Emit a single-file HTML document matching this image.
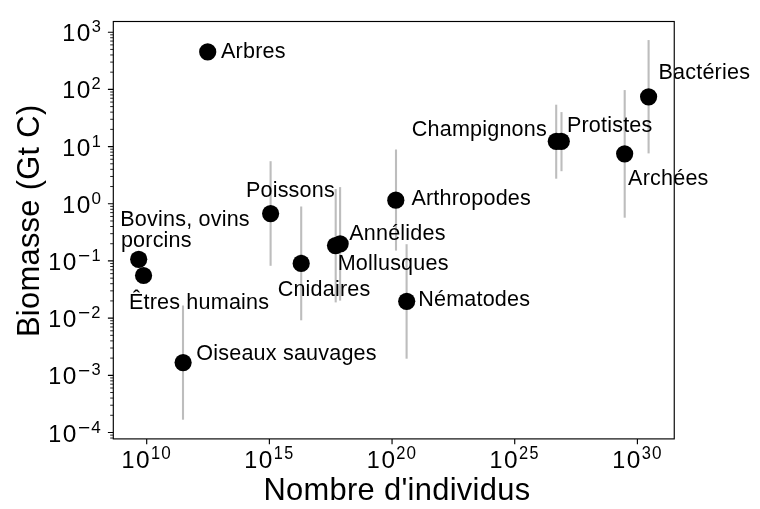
<!DOCTYPE html><html><head><meta charset="utf-8"><style>html,body{margin:0;padding:0;background:#fff;}svg{display:block;will-change:transform;}text{font-family:"Liberation Sans",sans-serif;fill:#000;}.a{letter-spacing:0.2px}.b{letter-spacing:0.31px}</style></head><body>
<svg width="760" height="509" viewBox="0 0 760 509">
<rect width="760" height="509" fill="#fff"/>
<g stroke="#bdbdbd" stroke-width="2.1">
<line x1="183" y1="305.5" x2="183" y2="419.7"/>
<line x1="270.6" y1="161.2" x2="270.6" y2="265.8"/>
<line x1="301.2" y1="206.5" x2="301.2" y2="320.3"/>
<line x1="335.7" y1="189" x2="335.7" y2="302.4"/>
<line x1="340.1" y1="187.1" x2="340.1" y2="300.6"/>
<line x1="396" y1="149.5" x2="396" y2="250.6"/>
<line x1="406.6" y1="244.2" x2="406.6" y2="358.7"/>
<line x1="556.2" y1="104.7" x2="556.2" y2="178.7"/>
<line x1="561.5" y1="112.1" x2="561.5" y2="171.2"/>
<line x1="624.7" y1="90.07" x2="624.7" y2="217.7"/>
<line x1="648.6" y1="40.07" x2="648.6" y2="153.4"/>
</g>
<g fill="#000">
<circle cx="207.7" cy="51.95" r="8.6"/>
<circle cx="138.7" cy="259.3" r="8.6"/>
<circle cx="143.55" cy="275.5" r="8.6"/>
<circle cx="183.1" cy="362.6" r="8.6"/>
<circle cx="270.6" cy="213.6" r="8.6"/>
<circle cx="301.2" cy="263.4" r="8.6"/>
<circle cx="335.5" cy="245.6" r="8.6"/>
<circle cx="340.15" cy="243.8" r="8.6"/>
<circle cx="395.8" cy="200.2" r="8.6"/>
<circle cx="406.7" cy="301.35" r="8.6"/>
<circle cx="556.3" cy="141.3" r="8.6"/>
<circle cx="561.3" cy="141.3" r="8.6"/>
<circle cx="624.65" cy="153.8" r="8.6"/>
<circle cx="648.6" cy="96.8" r="8.6"/>
</g>
<rect x="113.3" y="21.5" width="560.95" height="417.4" fill="none" stroke="#000" stroke-width="1.15"/>
<path d="M107.9 432.5H113.3M107.9 375.32H113.3M107.9 318.13H113.3M107.9 260.94H113.3M107.9 203.76H113.3M107.9 146.57H113.3M107.9 89.39H113.3M107.9 32.2H113.3M146.7 438.9V444.3M269.38 438.9V444.3M392.05 438.9V444.3M514.72 438.9V444.3M637.4 438.9V444.3" stroke="#000" stroke-width="1.15" fill="none"/>
<path d="M110.2 438.04H113.3M110.2 435.12H113.3M110.2 415.29H113.3M110.2 405.22H113.3M110.2 398.07H113.3M110.2 392.53H113.3M110.2 388H113.3M110.2 384.17H113.3M110.2 380.86H113.3M110.2 377.93H113.3M110.2 358.1H113.3M110.2 348.03H113.3M110.2 340.89H113.3M110.2 335.34H113.3M110.2 330.82H113.3M110.2 326.99H113.3M110.2 323.67H113.3M110.2 320.75H113.3M110.2 300.92H113.3M110.2 290.85H113.3M110.2 283.7H113.3M110.2 278.16H113.3M110.2 273.63H113.3M110.2 269.8H113.3M110.2 266.49H113.3M110.2 263.56H113.3M110.2 243.73H113.3M110.2 233.66H113.3M110.2 226.51H113.3M110.2 220.97H113.3M110.2 216.44H113.3M110.2 212.62H113.3M110.2 209.3H113.3M110.2 206.37H113.3M110.2 186.54H113.3M110.2 176.47H113.3M110.2 169.33H113.3M110.2 163.79H113.3M110.2 159.26H113.3M110.2 155.43H113.3M110.2 152.11H113.3M110.2 149.19H113.3M110.2 129.36H113.3M110.2 119.29H113.3M110.2 112.14H113.3M110.2 106.6H113.3M110.2 102.07H113.3M110.2 98.24H113.3M110.2 94.93H113.3M110.2 92H113.3M110.2 72.17H113.3M110.2 62.1H113.3M110.2 54.96H113.3M110.2 49.41H113.3M110.2 44.89H113.3M110.2 41.06H113.3M110.2 37.74H113.3M110.2 34.82H113.3" stroke="#000" stroke-width="0.86" fill="none"/>
<text class="a" x="221" y="58.2" font-size="21.55">Arbres</text>
<text class="a" x="120.3" y="226.3" font-size="21.55">Bovins, ovins</text>
<text class="a" x="120.9" y="247.1" font-size="21.55">porcins</text>
<text class="a" x="128.9" y="309.4" font-size="21.55">Êtres humains</text>
<text class="a" x="196.3" y="359.9" font-size="21.55">Oiseaux sauvages</text>
<text class="a" x="245.9" y="196.6" font-size="21.55">Poissons</text>
<text class="a" x="277.65" y="295.8" font-size="21.55">Cnidaires</text>
<text class="a" x="337.65" y="270.4" font-size="21.55">Mollusques</text>
<text class="a" x="349.2" y="240" font-size="21.55">Annélides</text>
<text class="a" x="411.4" y="205.3" font-size="21.55">Arthropodes</text>
<text class="a" x="418.2" y="306.3" font-size="21.55">Nématodes</text>
<text class="a" x="411.8" y="135.5" font-size="21.55">Champignons</text>
<text class="a" x="566.9" y="131.8" font-size="21.55">Protistes</text>
<text class="a" x="628.1" y="184.7" font-size="21.55">Archées</text>
<text class="a" x="658.5" y="79.1" font-size="21.55">Bactéries</text>
<text class="b" x="263.5" y="500" font-size="30.85">Nombre d'individus</text>
<text class="b" transform="translate(39.3 337.1) rotate(-90)" font-size="30.85">Biomasse (Gt C)</text>
<text font-size="24.58" transform="translate(48.18 441.5) scale(0.950 1.000)">1</text><text font-size="24.77" transform="translate(62.77 441.58) scale(0.987 1.000)">0</text><text font-size="18.98" transform="translate(77.9 433.77) scale(1.102 1.000)">−</text><text font-size="17.21" transform="translate(91.24 432.55) scale(0.994 1.000)">4</text>
<text font-size="24.58" transform="translate(48.18 384.32) scale(0.950 1.000)">1</text><text font-size="24.77" transform="translate(62.77 384.39) scale(0.987 1.000)">0</text><text font-size="18.98" transform="translate(77.9 376.58) scale(1.102 1.000)">−</text><text font-size="17.34" transform="translate(91.45 375.42) scale(0.948 1.000)">3</text>
<text font-size="24.58" transform="translate(48.18 327.13) scale(0.950 1.000)">1</text><text font-size="24.77" transform="translate(62.77 327.21) scale(0.987 1.000)">0</text><text font-size="18.98" transform="translate(77.9 319.4) scale(1.102 1.000)">−</text><text font-size="17.26" transform="translate(91.2 318.18) scale(0.955 1.000)">2</text>
<text font-size="24.58" transform="translate(48.18 269.94) scale(0.950 1.000)">1</text><text font-size="24.77" transform="translate(62.77 270.02) scale(0.987 1.000)">0</text><text font-size="18.98" transform="translate(77.9 262.21) scale(1.102 1.000)">−</text><text font-size="17.21" transform="translate(91.39 260.99) scale(0.950 1.000)">1</text>
<text font-size="24.58" transform="translate(62.18 212.76) scale(0.950 1.000)">1</text><text font-size="24.77" transform="translate(76.77 212.84) scale(0.987 1.000)">0</text><text font-size="17.34" transform="translate(91.61 203.86) scale(0.987 1.000)">0</text>
<text font-size="24.58" transform="translate(62.18 155.57) scale(0.950 1.000)">1</text><text font-size="24.77" transform="translate(76.77 155.65) scale(0.987 1.000)">0</text><text font-size="17.21" transform="translate(91.75 146.62) scale(0.950 1.000)">1</text>
<text font-size="24.58" transform="translate(62.18 98.39) scale(0.950 1.000)">1</text><text font-size="24.77" transform="translate(76.77 98.46) scale(0.987 1.000)">0</text><text font-size="17.26" transform="translate(91.57 89.43) scale(0.955 1.000)">2</text>
<text font-size="24.58" transform="translate(62.18 41.2) scale(0.950 1.000)">1</text><text font-size="24.77" transform="translate(76.77 41.28) scale(0.987 1.000)">0</text><text font-size="17.34" transform="translate(91.81 32.3) scale(0.948 1.000)">3</text>
<text font-size="24.58" transform="translate(121.48 468) scale(0.950 1.000)">1</text><text font-size="24.77" transform="translate(136.07 468.08) scale(0.987 1.000)">0</text><text font-size="17.21" transform="translate(151.05 458.65) scale(0.950 1.040)">1</text><text font-size="17.34" transform="translate(161.26 458.69) scale(0.987 1.040)">0</text>
<text font-size="24.58" transform="translate(244.15 468) scale(0.950 1.000)">1</text><text font-size="24.77" transform="translate(258.74 468.08) scale(0.987 1.000)">0</text><text font-size="17.21" transform="translate(273.72 458.65) scale(0.950 1.040)">1</text><text font-size="17.29" transform="translate(284.14 458.69) scale(0.935 1.040)">5</text>
<text font-size="24.58" transform="translate(366.83 468) scale(0.950 1.000)">1</text><text font-size="24.77" transform="translate(381.42 468.08) scale(0.987 1.000)">0</text><text font-size="17.26" transform="translate(396.22 458.65) scale(0.955 1.040)">2</text><text font-size="17.34" transform="translate(406.61 458.69) scale(0.987 1.040)">0</text>
<text font-size="24.58" transform="translate(489.5 468) scale(0.950 1.000)">1</text><text font-size="24.77" transform="translate(504.09 468.08) scale(0.987 1.000)">0</text><text font-size="17.26" transform="translate(518.89 458.65) scale(0.955 1.040)">2</text><text font-size="17.29" transform="translate(529.49 458.69) scale(0.935 1.040)">5</text>
<text font-size="24.58" transform="translate(612.18 468) scale(0.950 1.000)">1</text><text font-size="24.77" transform="translate(626.77 468.08) scale(0.987 1.000)">0</text><text font-size="17.34" transform="translate(641.81 458.69) scale(0.948 1.040)">3</text><text font-size="17.34" transform="translate(651.96 458.69) scale(0.987 1.040)">0</text>
</svg></body></html>
